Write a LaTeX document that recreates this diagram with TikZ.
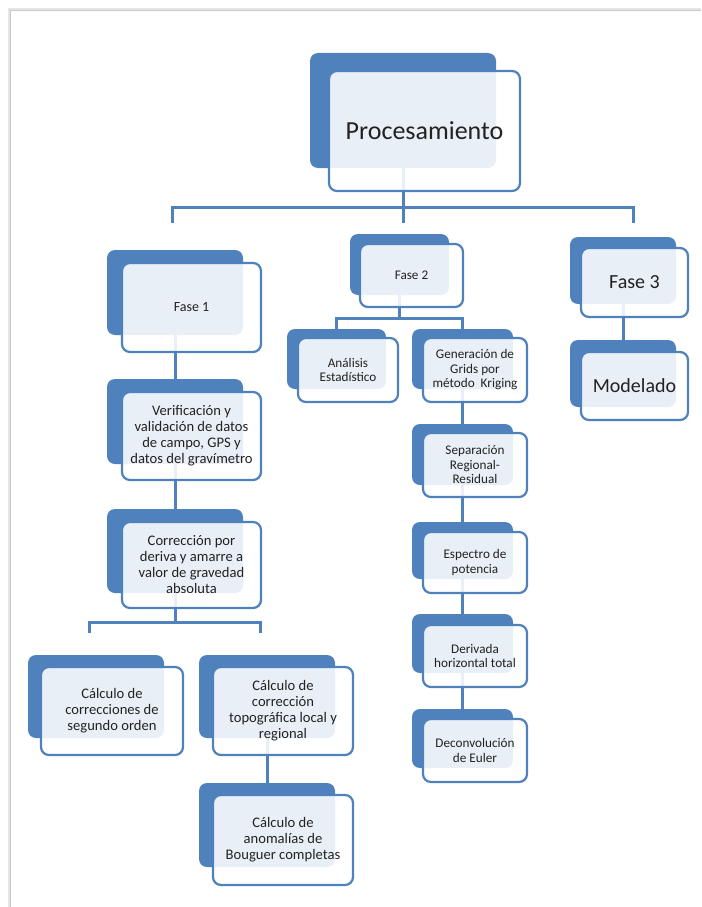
\documentclass[tikz,border=0pt]{standalone}
\usepackage{fontspec}
\setmainfont{Carlito}
\definecolor{sblue}{HTML}{4F81BD}
\definecolor{txt}{HTML}{222222}
\pgfdeclarelayer{bgl}
\pgfdeclarelayer{backl}
\pgfdeclarelayer{linel}
\pgfsetlayers{bgl,backl,linel,main}
\tikzset{
  backbox/.style={rounded corners=8pt, fill=sblue, inner sep=0pt, draw=none},
  frontbox/.style={rounded corners=8pt, draw=sblue, line width=2.2pt, fill=white, fill opacity=0.88, text opacity=1, inner sep=0pt, align=center, text=txt},
  conn/.style={draw=sblue, line width=3pt}
}
% #1 name, #2-#5 back box x1 y1 x2 y2, #6-#9 front box x1 y1 x2 y2, then {font}{text}
\newcommand{\twobox}[9]{%
  \begin{pgfonlayer}{backl}
  \node[backbox, minimum width={(#4-#2)*1pt}, minimum height={(#5-#3)*1pt}] (#1-b) at ({(#2+#4)/2},{(#3+#5)/2}) {};
  \end{pgfonlayer}
  \def\tbname{#1}\def\tbw{(#8-#6)*1pt}\def\tbh{(#9-#7)*1pt}\def\tbx{(#6+#8)/2}\def\tby{(#7+#9)/2}%
  \twoboxfront}
\newcommand{\twoboxfront}[2]{%
  \node[frontbox, font={#1}, minimum width={\tbw}, minimum height={\tbh}] (\tbname) at ({\tbx},{\tby}) {#2};}
\newcommand{\fa}{\fontsize{26}{30}\selectfont}
\newcommand{\fb}{\fontsize{20}{24}\selectfont}
\newcommand{\fc}{\fontsize{14}{16}\selectfont}
\newcommand{\fd}{\fontsize{14.6}{16}\selectfont}
\newcommand{\fe}{\fontsize{13.2}{14.5}\selectfont}
\begin{document}
\begin{tikzpicture}[x=1pt,y=-1pt]
\useasboundingbox (0,0) rectangle (701,907);
\begin{pgfonlayer}{bgl}
\fill[white] (0,0) rectangle (701,907);
% page shadow
\draw[black!10, line width=3pt] (9,907) -- (9,10) -- (701,10);
\draw[black!22, line width=1pt] (10,907) -- (10,11) -- (701,11);
\end{pgfonlayer}

% boxes
\twobox{proc}{310}{53}{496}{168}{329}{71}{520}{191}{\fa}{Procesamiento}
\twobox{f1}{107}{250}{243}{335}{122}{263}{261}{352}{\fc}{Fase 1}
\twobox{f2}{350}{234}{449}{295}{360}{244}{463}{307}{\fe}{Fase 2}
\twobox{f3}{570}{237}{676}{304}{581}{248}{688}{317}{\fb}{Fase 3}
\twobox{mod}{570}{340}{676}{407}{581}{352}{688}{420}{\fb}{Modelado}
\twobox{ver}{107}{379}{243}{464}{122}{392}{261}{480}{\fd}{Verificación y\\validación de datos\\de campo, GPS y\\datos del gravímetro}
\twobox{cor}{107}{509}{243}{593}{122}{522}{261}{608}{\fd}{Corrección por\\deriva y amarre a\\valor de gravedad\\absoluta}
\twobox{seg}{28}{655}{164}{738}{41}{667}{183}{755}{\fd}{Cálculo de\\correcciones de\\segundo orden}
\twobox{top}{199}{655}{335}{738}{213}{667}{353}{755}{\fd}{Cálculo de\\corrección\\topográfica local y\\regional}
\twobox{bou}{199}{783}{335}{867}{213}{795}{353}{885}{\fd}{Cálculo de\\anomalías de\\Bouguer completas}
\twobox{ana}{287}{329}{386}{389}{298}{338}{398}{402}{\fe}{Análisis\\Estadístico}
\twobox{gen}{412}{329}{513}{389}{423}{338}{527}{402}{\fe}{Generación de\\Grids por\\método~ Kriging}
\twobox{sep}{412}{424}{513}{485}{423}{433}{527}{497}{\fe}{Separación\\Regional-\\Residual}
\twobox{esp}{412}{522}{513}{579}{423}{532}{527}{593}{\fe}{Espectro de\\potencia}
\twobox{der}{412}{614}{513}{673}{423}{625}{527}{687}{\fe}{Derivada\\horizontal total}
\twobox{dec}{412}{709}{513}{768}{423}{719}{527}{782}{\fe}{Deconvolución\\de Euler}

% connector coordinates
\coordinate (hL) at (172,207);
\coordinate (hR) at (633,207);
\coordinate (dL) at (172,223);
\coordinate (dM) at (403,223);
\coordinate (dR) at (633,223);
\coordinate (k0) at (175,622);
\coordinate (kL) at (89,622);
\coordinate (kR) at (260,622);
\coordinate (eL) at (89,633);
\coordinate (eR) at (260,633);
\path (f2-b.south) ++(0,23) coordinate (m0);

\begin{pgfonlayer}{linel}
\draw[conn] (proc-b.south) -- (dM);
\draw[conn] (dL) -- (hL) -- (hR) -- (dR);
\draw[conn] (f1-b.south) -- (ver-b.north);
\draw[conn] (ver-b.south) -- (cor-b.north);
\draw[conn] (cor-b.south) -- (k0);
\draw[conn] (eL) -- (kL) -- (kR) -- (eR);
\draw[conn] (top-b.south) -- (bou-b.north);
\draw[conn] (f2-b.south) -- (m0);
\draw[conn] (ana-b.north) |- (m0) -| (gen-b.north);
\draw[conn] (gen-b.south) -- (sep-b.north);
\draw[conn] (sep-b.south) -- (esp-b.north);
\draw[conn] (esp-b.south) -- (der-b.north);
\draw[conn] (der-b.south) -- (dec-b.north);
\draw[conn] (f3-b.south) -- (mod-b.north);
\end{pgfonlayer}
\end{tikzpicture}
\end{document}
